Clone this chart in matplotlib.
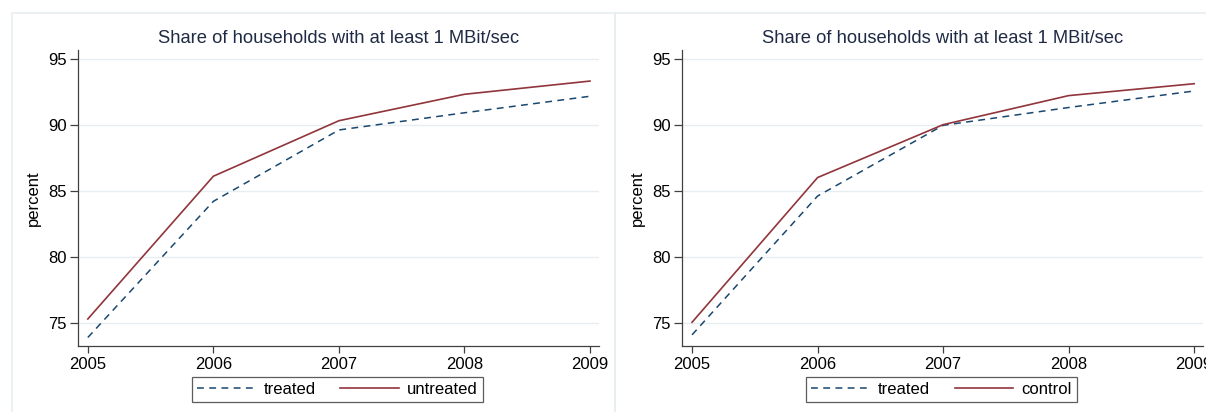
import matplotlib
matplotlib.use("Agg")
import matplotlib.pyplot as plt
from matplotlib.patches import Rectangle

plt.rcParams['font.family'] = ['Liberation Sans', 'DejaVu Sans']

years = [2005, 2006, 2007, 2008, 2009]

# left panel: treated vs untreated
left_treated = [73.9, 84.2, 89.6, 90.9, 92.15]
left_untreated = [75.3, 86.1, 90.3, 92.3, 93.3]

# right panel: treated vs control
right_treated = [74.1, 84.6, 89.95, 91.3, 92.55]
right_control = [75.05, 86.0, 90.0, 92.2, 93.1]

title = "Share of households with at least 1 MBit/sec"
y_ticks = [75, 80, 85, 90, 95]

NAVY = "#1a476f"
MAROON = "#90353b"
GRID = "#e6eef0"
AXIS = "#404040"


def draw_panel(ax, treated, other, other_label):
    ax.plot(years, treated, color=NAVY, lw=1.1, ls=(0, (4.5, 3.5)), label="treated")
    ax.plot(years, other, color=MAROON, lw=1.2, label=other_label)
    ax.set_xlim(2004.92, 2009.07)
    ax.set_ylim(73.25, 95.63)
    ax.set_xticks(years)
    ax.set_yticks(y_ticks)
    ax.yaxis.grid(True, color=GRID, lw=1.0)
    ax.set_axisbelow(True)
    for s in ["top", "right"]:
        ax.spines[s].set_visible(False)
    for s in ["left", "bottom"]:
        ax.spines[s].set_color(AXIS)
        ax.spines[s].set_linewidth(0.9)
    ax.tick_params(axis="y", length=6, width=0.9, color=AXIS, labelsize=12, pad=2)
    ax.tick_params(axis="x", length=5, width=0.9, color=AXIS, labelsize=12, pad=3)
    ax.set_ylabel("percent", fontsize=12, labelpad=5)
    ax.set_title(title, fontsize=13.2, color="#1f2a44", pad=5)
    leg = ax.legend(loc="center", bbox_to_anchor=(0.498, -0.147), ncol=2,
                    frameon=True, fancybox=False, edgecolor="#333333",
                    fontsize=12, handlelength=3.5, columnspacing=1.5,
                    borderpad=0.3, handletextpad=0.5, borderaxespad=0)
    leg.get_frame().set_linewidth(0.9)


fig = plt.figure(figsize=(12.06, 4.12), dpi=100)

# light panel frames
fig.patches.append(Rectangle((12 / 1206, -0.1), 603 / 1206, (412 - 13) / 412 + 0.1,
                             transform=fig.transFigure, fill=False,
                             edgecolor="#e8eef0", lw=1.2))
fig.patches.append(Rectangle((615 / 1206, -0.1), 0.6, (412 - 13) / 412 + 0.1,
                             transform=fig.transFigure, fill=False,
                             edgecolor="#e8eef0", lw=1.2))

ax1 = fig.add_axes([0.0645, 0.160, 0.432, 0.718])
ax2 = fig.add_axes([0.5655, 0.160, 0.432, 0.718])

draw_panel(ax1, left_treated, left_untreated, "untreated")
draw_panel(ax2, right_treated, right_control, "control")

fig.savefig("out.png", dpi=100)
